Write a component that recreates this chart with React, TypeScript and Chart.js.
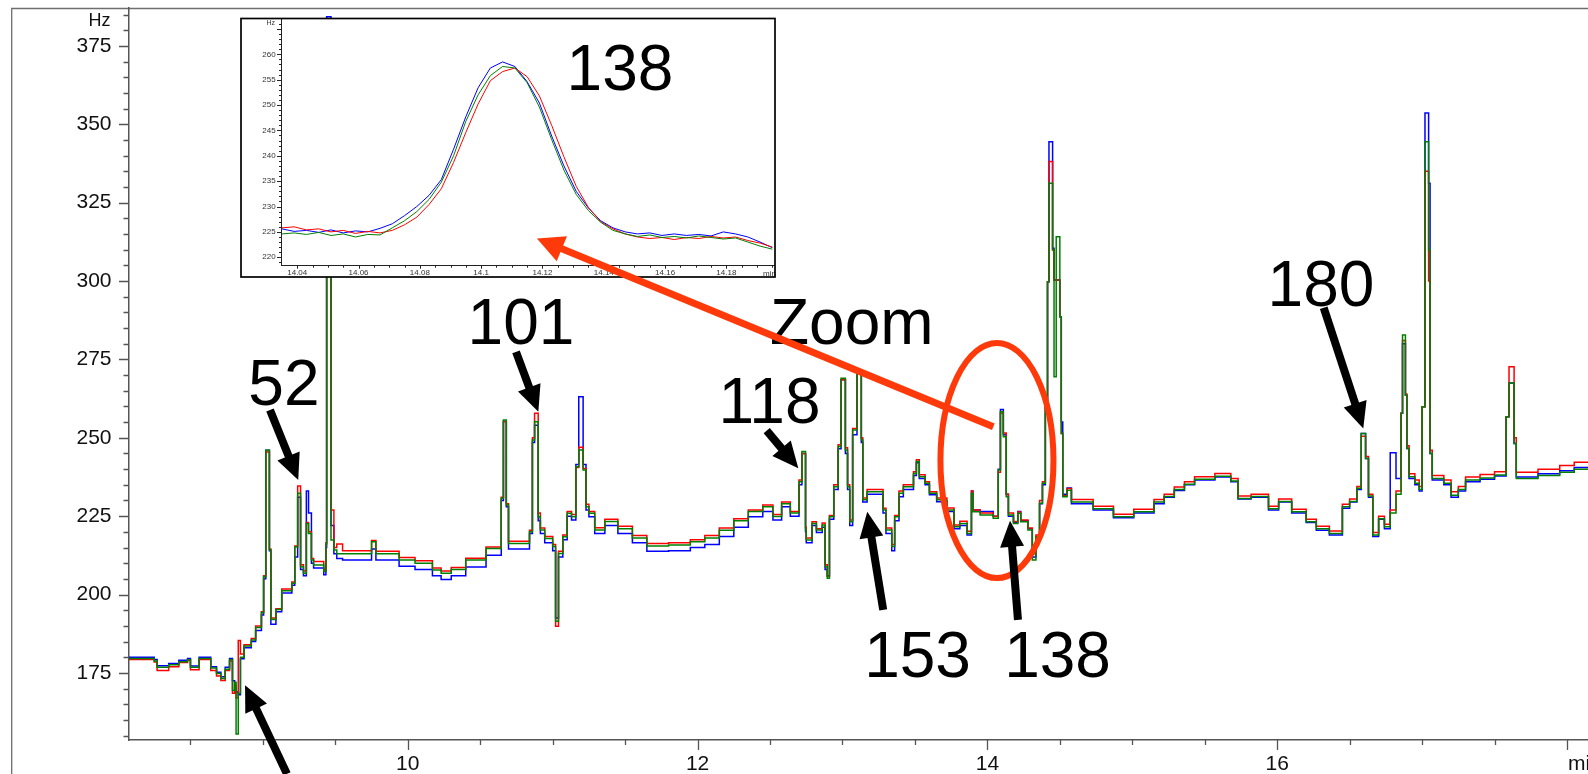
import React, { useEffect, useRef } from 'react';
import { Chart, registerables } from 'chart.js';

Chart.register(...registerables);

const FONT = '"Liberation Sans", Arial, Helvetica, sans-serif';
const W = 1588;
const H = 774;

// ---------------- main trace (time in min, frequency in Hz) ----------------
const timeMin = [
  8.07, 8.25, 8.27, 8.35, 8.42, 8.48, 8.5, 8.56, 8.64, 8.68,
  8.71, 8.74, 8.77, 8.79, 8.805, 8.815, 8.83, 8.845, 8.87, 8.92,
  8.95, 8.99, 9.005, 9.02, 9.045, 9.055, 9.09, 9.13, 9.2, 9.22,
  9.24, 9.26, 9.28, 9.3, 9.315, 9.335, 9.35, 9.42, 9.435, 9.44,
  9.47, 9.49, 9.51, 9.55, 9.75, 9.78, 9.94, 10.05, 10.17, 10.23,
  10.3, 10.4, 10.54, 10.645, 10.66, 10.68, 10.695, 10.84, 10.86, 10.875,
  10.9, 10.915, 10.945, 11.0, 11.02, 11.04, 11.07, 11.1, 11.13, 11.16,
  11.18, 11.21, 11.23, 11.25, 11.29, 11.36, 11.45, 11.55, 11.65, 11.8,
  11.95, 12.05, 12.15, 12.25, 12.35, 12.45, 12.52, 12.58, 12.64, 12.7,
  12.72, 12.745, 12.75, 12.79, 12.82, 12.86, 12.88, 12.895, 12.91, 12.94,
  12.97, 12.99, 13.02, 13.035, 13.05, 13.07, 13.1, 13.13, 13.14, 13.17,
  13.28, 13.3, 13.34, 13.36, 13.39, 13.42, 13.49, 13.51, 13.53, 13.57,
  13.6, 13.65, 13.72, 13.77, 13.81, 13.86, 13.89, 13.9, 13.95, 14.04,
  14.075, 14.09, 14.11, 14.13, 14.145, 14.18, 14.21, 14.23, 14.28, 14.31,
  14.335, 14.36, 14.38, 14.4, 14.415, 14.425, 14.45, 14.46, 14.475, 14.5,
  14.51, 14.52, 14.55, 14.58, 14.73, 14.87, 15.01, 15.15, 15.22, 15.29,
  15.36, 15.43, 15.57, 15.68, 15.73, 15.82, 15.94, 16.01, 16.1, 16.2,
  16.27, 16.36, 16.45, 16.5, 16.55, 16.58, 16.61, 16.63, 16.66, 16.7,
  16.74, 16.78, 16.82, 16.855, 16.865, 16.885, 16.895, 16.91, 16.95, 16.98,
  17.0, 17.02, 17.045, 17.055, 17.07, 17.15, 17.2, 17.25, 17.3, 17.4,
  17.5, 17.58, 17.6, 17.635, 17.65, 17.8, 17.95, 18.05, 18.15,
];

const greenHz = [
  179.6, 178.8, 176.8, 177.6, 178.6, 179.2, 176.8, 179.6, 176.6, 174.8,
  173.2, 176.2, 179.2, 169.5, 172.0, 155.5, 168.5, 180.0, 183.6, 185.5,
  189.5, 194.2, 205.7, 246.0, 214.3, 192.0, 195.2, 201.2, 203.6, 215.2,
  232.3, 208.9, 206.8, 222.7, 219.5, 211.0, 209.4, 207.4, 216.1, 378.0,
  217.4, 214.2, 213.0, 213.0, 216.8, 213.0, 211.0, 210.0, 207.8, 206.8,
  208.0, 211.0, 214.7, 230.7, 255.7, 228.6, 216.3, 220.0, 249.3, 255.1,
  224.8, 220.6, 217.9, 215.3, 191.5, 213.1, 218.4, 225.9, 224.8, 240.8,
  246.1, 239.7, 228.0, 225.9, 220.6, 223.3, 221.0, 218.0, 215.5, 215.8,
  216.8, 218.0, 220.5, 223.5, 226.5, 228.0, 224.9, 229.0, 226.0, 236.0,
  245.6, 220.6, 217.4, 222.7, 220.6, 222.2, 208.9, 205.2, 224.8, 234.4,
  247.2, 269.0, 246.1, 234.4, 223.2, 252.5, 271.0, 249.3, 230.2, 232.8,
  227.0, 220.6, 215.3, 224.8, 232.3, 234.4, 238.6, 242.4, 237.6, 235.5,
  232.3, 230.2, 227.0, 221.6, 222.7, 219.5, 232.3, 226.4, 225.4, 224.3,
  239.7, 258.3, 250.3, 231.2, 225.4, 222.7, 225.9, 223.2, 220.6, 211.0,
  218.4, 229.1, 235.5, 261.5, 299.8, 331.2, 309.9, 269.5, 314.1, 288.6,
  251.4, 231.2, 233.3, 229.5, 227.4, 224.8, 226.4, 229.5, 231.3, 233.5,
  235.2, 236.8, 237.7, 236.2, 230.6, 231.3, 227.4, 229.7, 226.4, 223.2,
  221.0, 219.5, 228.0, 229.7, 233.9, 251.4, 243.4, 231.4, 219.0, 224.2,
  221.6, 226.0, 232.0, 257.8, 282.8, 263.6, 246.6, 237.6, 235.5, 233.5,
  259.9, 344.4, 310.0, 245.0, 237.0, 235.5, 231.7, 233.5, 236.5, 237.2,
  238.1, 256.7, 267.5, 248.2, 237.0, 238.0, 239.0, 240.0, 240.8,
];

const blueHz = [
  180.0, 179.3, 177.3, 178.0, 179.0, 179.6, 177.2, 180.0, 177.0, 175.2,
  173.8, 176.8, 179.6, 172.5, 170.0, 169.0, 168.0, 179.5, 183.0, 185.0,
  188.5, 193.5, 205.0, 246.0, 214.0, 190.5, 194.5, 200.5, 203.0, 212.0,
  231.0, 208.0, 206.0, 233.0, 226.0, 210.0, 208.5, 206.3, 215.0, 384.3,
  222.0, 213.0, 211.5, 211.0, 214.5, 211.0, 209.0, 208.0, 206.0, 204.8,
  206.0, 208.8, 212.5, 230.0, 255.2, 228.0, 214.5, 219.5, 248.5, 254.0,
  223.5, 219.5, 216.5, 214.0, 192.5, 212.0, 217.5, 225.0, 223.8, 241.5,
  263.1, 241.5, 227.0, 224.8, 219.5, 222.0, 219.5, 216.5, 213.8, 214.0,
  215.0, 216.0, 218.5, 221.5, 224.8, 226.5, 223.8, 228.0, 225.0, 235.0,
  245.0, 220.0, 216.5, 222.0, 219.8, 221.5, 208.0, 206.0, 224.0, 233.5,
  246.5, 268.5, 245.0, 233.5, 222.0, 251.0, 271.5, 248.5, 229.5, 232.0,
  226.0, 219.5, 214.0, 223.5, 231.2, 233.5, 238.0, 242.0, 237.0, 235.0,
  231.8, 229.6, 226.5, 221.0, 222.0, 219.0, 233.0, 227.0, 226.5, 225.0,
  240.0, 259.0, 251.0, 232.0, 225.0, 223.0, 226.5, 223.5, 221.0, 212.0,
  218.0, 229.0, 235.0, 261.0, 299.8, 344.4, 310.5, 300.3, 300.3, 288.6,
  255.0, 232.0, 234.0, 229.0, 227.0, 224.5, 226.0, 229.0, 231.0, 233.2,
  235.0, 236.5, 237.5, 236.0, 230.5, 231.0, 227.0, 229.5, 226.0, 223.0,
  220.5, 219.0, 227.5, 229.5, 233.5, 251.4, 243.4, 231.0, 218.5, 224.0,
  221.0, 245.2, 237.0, 257.8, 280.0, 263.6, 246.6, 237.0, 235.0, 233.0,
  259.9, 353.6, 331.2, 245.0, 236.5, 235.0, 231.0, 233.0, 236.0, 236.8,
  237.8, 256.7, 267.5, 248.2, 237.5, 238.5, 239.5, 240.5, 241.2,
];

const redHz = [
  179.3, 178.5, 175.8, 177.0, 178.3, 179.0, 176.0, 179.3, 175.8, 174.0,
  172.6, 175.8, 178.8, 168.5, 171.0, 167.0, 185.3, 181.0, 184.0, 186.0,
  190.0, 194.5, 206.0, 245.5, 214.5, 192.5, 195.5, 201.8, 204.0, 215.5,
  234.6, 209.5, 207.5, 223.0, 220.0, 211.5, 210.5, 208.0, 216.5, 381.0,
  227.0, 215.0, 216.1, 214.0, 217.2, 213.8, 211.8, 210.8, 208.5, 207.5,
  208.6, 211.6, 215.2, 231.0, 255.2, 229.0, 217.0, 220.5, 250.0, 257.8,
  226.0, 221.2, 218.5, 216.0, 189.9, 213.8, 219.0, 226.5, 225.5, 240.5,
  247.0, 240.2, 228.8, 226.5, 221.3, 224.0, 221.8, 218.8, 216.3, 216.5,
  217.5, 218.8, 221.2, 224.2, 227.0, 228.6, 225.5, 229.5, 226.5, 236.5,
  245.0, 221.5, 218.0, 223.2, 221.0, 222.8, 209.5, 205.8, 225.2, 235.0,
  247.8, 268.5, 246.8, 235.0, 223.8, 253.0, 270.5, 250.0, 230.8, 233.5,
  227.5, 221.2, 216.0, 225.2, 233.0, 235.0, 239.2, 243.0, 238.2, 236.0,
  232.8, 230.8, 227.6, 222.2, 223.4, 220.2, 233.0, 227.0, 226.0, 225.0,
  239.0, 257.8, 251.5, 232.0, 226.0, 223.3, 226.3, 223.8, 221.2, 213.0,
  219.0, 230.0, 236.0, 262.0, 299.8, 338.1, 310.0, 300.3, 300.3, 288.6,
  251.4, 231.5, 233.8, 230.3, 228.2, 225.6, 227.2, 230.3, 232.0, 234.3,
  236.0, 237.6, 238.6, 237.0, 231.4, 232.0, 228.2, 230.5, 227.2, 224.0,
  221.8, 220.3, 228.8, 230.5, 234.5, 250.5, 244.0, 232.0, 219.8, 225.0,
  222.4, 227.0, 233.0, 257.8, 281.0, 264.0, 247.5, 238.5, 236.5, 234.5,
  259.9, 335.0, 300.0, 246.0, 238.0, 236.5, 232.8, 234.5, 237.5, 238.3,
  239.2, 256.7, 272.7, 250.0, 239.0, 240.0, 241.2, 242.2, 242.9,
];

const yLabelTicks = [175, 200, 225, 250, 275, 300, 325, 350, 375];
const xLabelTicks = [10, 12, 14, 16];
const xUnitTick = 18;

// ---------------- inset (zoom on peak 138) ----------------
const insetTime = [
  14.035, 14.039, 14.043, 14.047, 14.051, 14.055, 14.059, 14.063, 14.067, 14.071,
  14.075, 14.079, 14.083, 14.087, 14.091, 14.095, 14.099, 14.103, 14.107, 14.111,
  14.115, 14.119, 14.123, 14.127, 14.131, 14.135, 14.139, 14.143, 14.147, 14.151,
  14.155, 14.159, 14.163, 14.167, 14.171, 14.175, 14.179, 14.183, 14.187, 14.191,
  14.195,
];
const insetBlue = [
  225.6, 225.1, 225.3, 224.9, 225.4, 224.8, 225.2, 225.0, 225.7, 226.6,
  228.2, 230.0, 232.2, 235.3, 241.3, 247.7, 253.4, 257.3, 258.5, 257.6,
  254.6, 250.4, 243.9, 238.0, 233.0, 229.7, 227.2, 225.8, 225.0, 224.6,
  224.8, 224.3, 224.6, 224.3, 224.5, 224.2, 225.0, 224.6, 224.0, 223.0,
  221.9,
];
const insetRed = [
  225.8, 226.0, 225.4, 225.6, 225.0, 225.3, 224.7, 225.1, 224.8, 225.3,
  226.4, 227.9, 230.4, 233.5, 238.7, 244.6, 250.2, 254.8, 256.6, 257.3,
  255.6, 251.8, 246.0, 239.8, 234.0, 229.8, 227.0, 225.6, 224.6, 224.0,
  223.7, 223.9, 223.5, 223.9, 223.7, 224.1, 223.8, 224.0, 223.3, 222.8,
  222.0,
];
const insetGreen = [
  224.6, 224.8, 224.5, 224.9, 224.3, 224.6, 224.0, 224.5, 224.4, 225.8,
  227.2, 229.0, 231.4, 234.8, 240.0, 246.8, 252.0, 255.8, 257.6, 257.3,
  254.4, 249.6, 243.2, 237.2, 232.4, 229.2, 226.9, 225.3, 224.6, 224.1,
  224.4, 223.9, 224.1, 223.8, 224.2, 223.9, 223.6, 223.8, 223.0, 222.2,
  221.6,
];
const insetYLabels = [220, 225, 230, 235, 240, 245, 250, 255, 260];
const insetXLabels = [14.04, 14.06, 14.08, 14.1, 14.12, 14.14, 14.16, 14.18];

// ---------------- annotations (in data coordinates of the main chart) ----------------
const peakLabels = [
  { text: '52', t: 9.145, v: 260.4 },
  { text: '101', t: 10.781, v: 279.9 },
  { text: '118', t: 12.496, v: 254.6 },
  { text: '153', t: 13.518, v: 173.8 },
  { text: '138', t: 14.484, v: 173.8 },
  { text: '180', t: 16.302, v: 292.0 },
  { text: 'Zoom', t: 13.064, v: 279.8 },
];
const blackArrows = [
  { from: [9.049, 258.9], to: [9.244, 236.5] },
  { from: [10.747, 277.4], to: [10.901, 258.3] },
  { from: [12.477, 252.3], to: [12.695, 240.3] },
  { from: [13.281, 195.1], to: [13.171, 226.4] },
  { from: [14.211, 191.9], to: [14.156, 223.5] },
  { from: [16.321, 291.5], to: [16.594, 253.0] },
  { from: [9.166, 142.8], to: [8.877, 171.1] },
];
const zoomEllipse = { t: 14.066, v: 242.75, dt: 0.39, dv: 37.5 };
const zoomArrow = { from: [14.041, 253.5], to: [10.891, 313.6] };
const insetTitle = { text: '138', t: 14.1453, v: 252.97 };

const RED_MARK = '#ff3a0a';

function drawArrow(
  ctx: CanvasRenderingContext2D,
  x1: number, y1: number, x2: number, y2: number,
  w: number, hl: number, hw: number, color: string,
) {
  const dx = x2 - x1;
  const dy = y2 - y1;
  const len = Math.hypot(dx, dy);
  const ux = dx / len;
  const uy = dy / len;
  const bx = x2 - ux * hl;
  const by = y2 - uy * hl;
  ctx.save();
  ctx.strokeStyle = color;
  ctx.fillStyle = color;
  ctx.lineWidth = w;
  ctx.lineCap = 'butt';
  ctx.beginPath();
  ctx.moveTo(x1, y1);
  ctx.lineTo(bx + ux * 2, by + uy * 2);
  ctx.stroke();
  ctx.beginPath();
  ctx.moveTo(x2, y2);
  ctx.lineTo(bx - (uy * hw) / 2, by + (ux * hw) / 2);
  ctx.lineTo(bx + (uy * hw) / 2, by - (ux * hw) / 2);
  ctx.closePath();
  ctx.fill();
  ctx.restore();
}

export default function App() {
  const mainRef = useRef<HTMLCanvasElement>(null);
  const insetRef = useRef<HTMLCanvasElement>(null);

  useEffect(() => {
    const series = (vals: number[], color: string) => ({
      data: timeMin.map((t, i) => ({ x: t, y: vals[i] })),
      borderColor: color,
      backgroundColor: color,
      borderWidth: 1.5,
      pointRadius: 0,
      stepped: true as const,
      fill: false,
      tension: 0,
    });

    const mainDecor = {
      id: 'mainDecor',
      beforeDraw(chart: any) {
        const { ctx, chartArea: a } = chart;
        ctx.save();
        ctx.fillStyle = '#ffffff';
        ctx.fillRect(0, 0, chart.width, chart.height);
        ctx.strokeStyle = '#6e6e6e';
        ctx.lineWidth = 1.3;
        ctx.beginPath();
        ctx.moveTo(11.7, chart.height);
        ctx.lineTo(11.7, a.top + 0.5);
        ctx.lineTo(chart.width, a.top + 0.5);
        ctx.stroke();
        ctx.restore();
      },
      afterDraw(chart: any) {
        const { ctx, chartArea: a } = chart;
        const xs = chart.scales.x;
        const ys = chart.scales.y;
        ctx.save();
        ctx.strokeStyle = '#555';
        ctx.lineWidth = 1.3;
        ctx.beginPath();
        for (let v = 155; v <= 385; v += 5) {
          const py = Math.round(ys.getPixelForValue(v)) + 0.5;
          const len = v % 25 === 0 ? 10 : 5.5;
          ctx.moveTo(a.left - len, py);
          ctx.lineTo(a.left, py);
        }
        for (let k = 17; k <= 36; k++) {
          const v = k / 2;
          const px = Math.round(xs.getPixelForValue(v)) + 0.5;
          const len = k % 4 === 0 ? 10 : 5;
          ctx.moveTo(px, a.bottom);
          ctx.lineTo(px, a.bottom + len);
        }
        ctx.stroke();
        // unit labels
        ctx.fillStyle = '#111';
        ctx.font = `18px ${FONT}`;
        ctx.textAlign = 'right';
        ctx.textBaseline = 'alphabetic';
        ctx.fillText('Hz', a.left - 18.5, a.top + 18);
        ctx.font = `21px ${FONT}`;
        ctx.textAlign = 'left';
        ctx.textBaseline = 'middle';
        ctx.fillText('min', xs.getPixelForValue(xUnitTick) + 1, a.bottom + 24);
        // red ellipse
        const cx = xs.getPixelForValue(zoomEllipse.t);
        const cy = ys.getPixelForValue(zoomEllipse.v);
        const rx = xs.getPixelForValue(zoomEllipse.t + zoomEllipse.dt) - cx;
        const ry = cy - ys.getPixelForValue(zoomEllipse.v + zoomEllipse.dv);
        ctx.strokeStyle = RED_MARK;
        ctx.lineWidth = 6;
        ctx.beginPath();
        ctx.ellipse(cx, cy, rx, ry, 0, 0, Math.PI * 2);
        ctx.stroke();
        // black arrows
        for (const ar of blackArrows) {
          drawArrow(
            ctx,
            xs.getPixelForValue(ar.from[0]), ys.getPixelForValue(ar.from[1]),
            xs.getPixelForValue(ar.to[0]), ys.getPixelForValue(ar.to[1]),
            8, 26, 24, '#000',
          );
        }
        // peak numbers
        ctx.fillStyle = '#000';
        ctx.font = `64px ${FONT}`;
        ctx.textAlign = 'center';
        ctx.textBaseline = 'alphabetic';
        for (const p of peakLabels) {
          ctx.fillText(p.text, xs.getPixelForValue(p.t), ys.getPixelForValue(p.v));
        }
        ctx.restore();
      },
    };

    // dataset 0 is painted last (on top): green, then red, then blue underneath
    const main = new Chart(mainRef.current as HTMLCanvasElement, {
      type: 'line',
      data: {
        datasets: [
          series(greenHz, '#008000'),
          series(redHz, '#ff0000'),
          series(blueHz, '#0000ff'),
        ],
      },
      options: {
        animation: false,
        responsive: false,
        devicePixelRatio: 1,
        events: [],
        layout: { padding: { top: 8, left: 0, right: 0, bottom: 0 } },
        plugins: { legend: { display: false }, tooltip: { enabled: false } },
        scales: {
          x: {
            type: 'linear',
            min: 8.076,
            max: 18.145,
            afterBuildTicks: (s: any) => {
              s.ticks = xLabelTicks.map((v) => ({ value: v }));
            },
            afterFit: (s: any) => {
              s.height = 34;
              s.paddingLeft = 0;
              s.paddingRight = 0;
            },
            grid: { display: false, drawTicks: false },
            border: { display: true, color: '#555', width: 1.5 },
            ticks: {
              autoSkip: false,
              maxRotation: 0,
              padding: 11.6,
              color: '#111',
              font: { family: FONT, size: 21 },
              callback: (v: any) => String(v),
            },
          },
          y: {
            type: 'linear',
            min: 153.6,
            max: 387.1,
            afterBuildTicks: (s: any) => {
              s.ticks = yLabelTicks.map((v) => ({ value: v }));
            },
            afterFit: (s: any) => {
              s.width = 129;
              s.paddingTop = 0;
              s.paddingBottom = 0;
            },
            grid: { display: false, drawTicks: false },
            border: { display: true, color: '#555', width: 1.5 },
            ticks: {
              autoSkip: false,
              padding: 17.5,
              color: '#111',
              font: { family: FONT, size: 21 },
              callback: (v: any) => String(v),
            },
          },
        },
      } as any,
      plugins: [mainDecor],
    });

    const FR = { left: 241, top: 18.5, right: 775, bottom: 277 };
    const insetDecor = {
      id: 'insetDecor',
      beforeDraw(chart: any) {
        const { ctx } = chart;
        ctx.save();
        ctx.fillStyle = '#ffffff';
        ctx.fillRect(FR.left, FR.top, FR.right - FR.left, FR.bottom - FR.top);
        ctx.restore();
      },
      afterDraw(chart: any) {
        const { ctx, chartArea: a } = chart;
        const xs = chart.scales.x;
        const ys = chart.scales.y;
        ctx.save();
        ctx.strokeStyle = '#222';
        ctx.lineWidth = 1;
        ctx.beginPath();
        for (let v = 219; v <= 266; v += 1) {
          const py = Math.round(ys.getPixelForValue(v)) + 0.5;
          const len = v % 5 === 0 ? 4 : 2;
          ctx.moveTo(a.left - len, py);
          ctx.lineTo(a.left, py);
        }
        for (let k = 0; k <= 31; k++) {
          const v = 14.04 + k * 0.005;
          if (v > 14.195) break;
          const px = Math.round(xs.getPixelForValue(v)) + 0.5;
          const len = k % 4 === 0 ? 3 : 2;
          ctx.moveTo(px, a.bottom);
          ctx.lineTo(px, a.bottom + len);
        }
        ctx.stroke();
        ctx.fillStyle = '#333';
        ctx.font = `7px ${FONT}`;
        ctx.textAlign = 'right';
        ctx.textBaseline = 'middle';
        ctx.fillText('Hz', a.left - 6, a.top + 4);
        ctx.font = `8px ${FONT}`;
        ctx.textAlign = 'left';
        ctx.fillText('min', a.right - 11.5, a.bottom + 7.6);
        // frame
        ctx.strokeStyle = '#000';
        ctx.lineWidth = 1.7;
        ctx.strokeRect(FR.left, FR.top, FR.right - FR.left, FR.bottom - FR.top);
        // title
        ctx.fillStyle = '#000';
        ctx.font = `64px ${FONT}`;
        ctx.textAlign = 'center';
        ctx.textBaseline = 'alphabetic';
        ctx.fillText(insetTitle.text, xs.getPixelForValue(insetTitle.t), ys.getPixelForValue(insetTitle.v));
        ctx.restore();
        // red zoom arrow (main chart coordinates)
        const mx = main.scales.x;
        const my = main.scales.y;
        drawArrow(
          ctx,
          mx.getPixelForValue(zoomArrow.from[0]), my.getPixelForValue(zoomArrow.from[1]),
          mx.getPixelForValue(zoomArrow.to[0]), my.getPixelForValue(zoomArrow.to[1]),
          7, 27, 27, RED_MARK,
        );
      },
    };

    const iseries = (vals: number[], color: string) => ({
      data: insetTime.map((t, i) => ({ x: t, y: vals[i] })),
      borderColor: color,
      backgroundColor: color,
      borderWidth: 1,
      pointRadius: 0,
      fill: false,
      tension: 0,
    });

    const inset = new Chart(insetRef.current as HTMLCanvasElement, {
      type: 'line',
      data: {
        datasets: [
          iseries(insetGreen, '#008000'),
          iseries(insetRed, '#ff0000'),
          iseries(insetBlue, '#0000ff'),
        ],
      },
      options: {
        animation: false,
        responsive: false,
        devicePixelRatio: 1,
        events: [],
        layout: { padding: { left: 241, top: 19.5, right: 813.5, bottom: 497 } },
        plugins: { legend: { display: false }, tooltip: { enabled: false } },
        scales: {
          x: {
            type: 'linear',
            min: 14.0347,
            max: 14.1957,
            afterBuildTicks: (s: any) => {
              s.ticks = insetXLabels.map((v) => ({ value: v }));
            },
            afterFit: (s: any) => {
              s.height = 11.3;
              s.paddingLeft = 0;
              s.paddingRight = 0;
            },
            grid: { display: false, drawTicks: false },
            border: { display: true, color: '#222', width: 1 },
            ticks: {
              autoSkip: false,
              maxRotation: 0,
              padding: 2.6,
              color: '#333',
              font: { family: FONT, size: 8 },
              callback: (v: any) => String(Number(Number(v).toFixed(2))),
            },
          },
          y: {
            type: 'linear',
            min: 218.34,
            max: 266.86,
            afterBuildTicks: (s: any) => {
              s.ticks = insetYLabels.map((v) => ({ value: v }));
            },
            afterFit: (s: any) => {
              s.width = 40;
              s.paddingTop = 0;
              s.paddingBottom = 0;
            },
            grid: { display: false, drawTicks: false },
            border: { display: true, color: '#222', width: 1 },
            ticks: {
              autoSkip: false,
              padding: 5.4,
              color: '#333',
              font: { family: FONT, size: 8 },
              callback: (v: any) => String(v),
            },
          },
        },
      } as any,
      plugins: [insetDecor],
    });

    return () => {
      inset.destroy();
      main.destroy();
    };
  }, []);

  return (
    <div
      style={{
        position: 'fixed',
        left: 0,
        top: 0,
        width: W,
        height: H,
        overflow: 'hidden',
        background: '#ffffff',
      }}
    >
      <canvas ref={mainRef} width={W} height={H} style={{ position: 'absolute', left: 0, top: 0 }} />
      <canvas ref={insetRef} width={W} height={H} style={{ position: 'absolute', left: 0, top: 0 }} />
    </div>
  );
}
